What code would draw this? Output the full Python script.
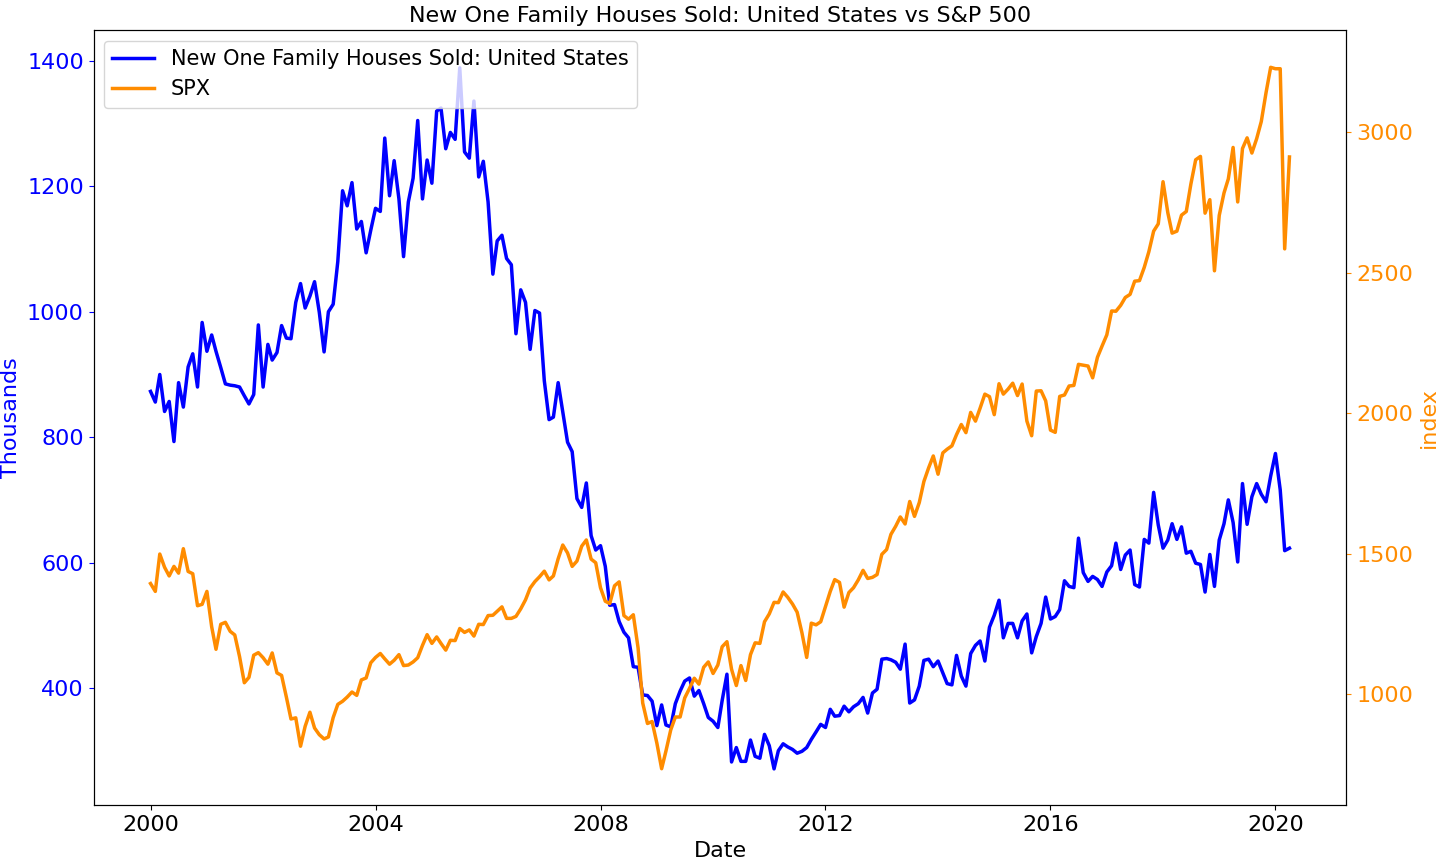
import numpy as np, pandas as pd, matplotlib
matplotlib.use("Agg")
import matplotlib.pyplot as plt, seaborn as sns

houses = [873,856,900,841,857,793,887,848,912,933,880,983,
937,963,937,911,885,883,882,880,866,853,868,
979,880,948,923,935,978,958,957,1015,1045,1006,1025,
1048,999,936,1000,1012,1080,1193,1169,1206,1132,1144,1094,
1130,1165,1160,1277,1185,1241,1180,1088,1175,1213,1305,1180,
1242,1205,1320,1325,1260,1286,1275,1389,1255,1245,1336,1215,
1240,1175,1060,1113,1122,1085,1075,965,1035,1015,940,1002,
998,890,828,832,887,840,792,777,702,688,727,643,
620,627,594,532,533,506,489,480,434,433,389,388,
379,340,373,341,338,375,395,411,416,387,396,375,
353,347,337,380,422,282,305,283,283,317,291,288,
326,308,271,300,311,306,302,296,299,305,318,330,
342,337,366,355,356,371,362,370,375,385,360,392,
398,446,447,445,441,430,470,376,381,403,444,446,
434,443,424,407,405,452,419,403,455,468,475,443,
497,516,540,480,503,503,480,507,518,456,482,503,
545,510,514,525,571,562,560,639,584,570,578,573,
562,585,595,631,589,612,620,565,561,637,631,712,
660,623,636,662,637,657,615,618,599,597,553,613,
562,636,662,700,664,601,726,661,705,726,709,697,
738,774,716,619,623]
spx = [1394,1366,1499,1452,1421,1455,1431,1518,1437,1429,1315,1320,
1366,1240,1160,1249,1256,1224,1211,1134,1041,1060,1139,1148,
1130,1107,1147,1076,1067,990,912,916,815,886,936,880,
856,841,848,917,964,975,990,1008,996,1051,1058,1112,
1131,1145,1126,1107,1121,1141,1102,1104,1115,1130,1174,1212,
1181,1204,1181,1157,1192,1191,1234,1220,1229,1207,1249,1248,
1280,1281,1295,1311,1270,1270,1277,1304,1336,1378,1401,1418,
1438,1407,1421,1482,1531,1503,1455,1474,1527,1549,1481,1468,
1379,1331,1323,1386,1400,1280,1267,1283,1165,969,896,903,
826,735,798,873,919,919,987,1021,1057,1036,1096,1115,
1074,1104,1169,1187,1089,1031,1102,1049,1141,1183,1181,1258,
1286,1327,1326,1364,1345,1321,1292,1219,1131,1253,1247,1258,
1312,1366,1408,1398,1310,1362,1379,1407,1441,1412,1416,1426,
1498,1515,1569,1598,1631,1606,1686,1633,1682,1757,1806,1848,
1783,1859,1872,1884,1924,1960,1931,2003,1972,2018,2068,2059,
1995,2105,2068,2086,2107,2063,2104,1972,1920,2079,2080,2044,
1940,1932,2060,2065,2097,2099,2174,2171,2168,2126,2199,2239,
2279,2364,2363,2384,2412,2423,2470,2472,2519,2575,2648,2674,
2824,2714,2641,2648,2705,2718,2816,2902,2914,2712,2760,2507,
2704,2784,2834,2946,2752,2942,2980,2926,2977,3038,3141,3231,
3226,3226,2585,2912]
n = min(len(houses), len(spx))
dates = pd.date_range("2000-01-01", periods=n, freq="MS")

plt.rcParams.update({"font.size": 16})
fig, ax1 = plt.subplots(figsize=(14.4, 8.64), dpi=100)
sns.lineplot(x=dates, y=houses[:n], ax=ax1, color="blue", linewidth=2.5,
             label="New One Family Houses Sold: United States", legend=False)
ax2 = ax1.twinx()
sns.lineplot(x=dates, y=spx[:n], ax=ax2, color="darkorange", linewidth=2.5, label="SPX", legend=False)
ax1.set_ylim(213, 1449); ax2.set_ylim(605, 3363)
ax1.set_xlabel("Date"); ax1.set_ylabel("Thousands", color="blue")
ax2.set_ylabel("index", color="darkorange")
ax1.tick_params(axis="y", colors="blue", labelsize=16)
ax2.tick_params(axis="y", colors="darkorange", labelsize=16)
ax1.tick_params(axis="x", labelsize=16)
ax1.set_title("New One Family Houses Sold: United States vs S&P 500", fontsize=16)
h1, l1 = ax1.get_legend_handles_labels(); h2, l2 = ax2.get_legend_handles_labels()
ax1.legend(h1 + h2, l1 + l2, loc="upper left", fontsize=15)
fig.subplots_adjust(left=0.065, right=0.935, top=0.965, bottom=0.068)
fig.savefig("out.png", dpi=100)
